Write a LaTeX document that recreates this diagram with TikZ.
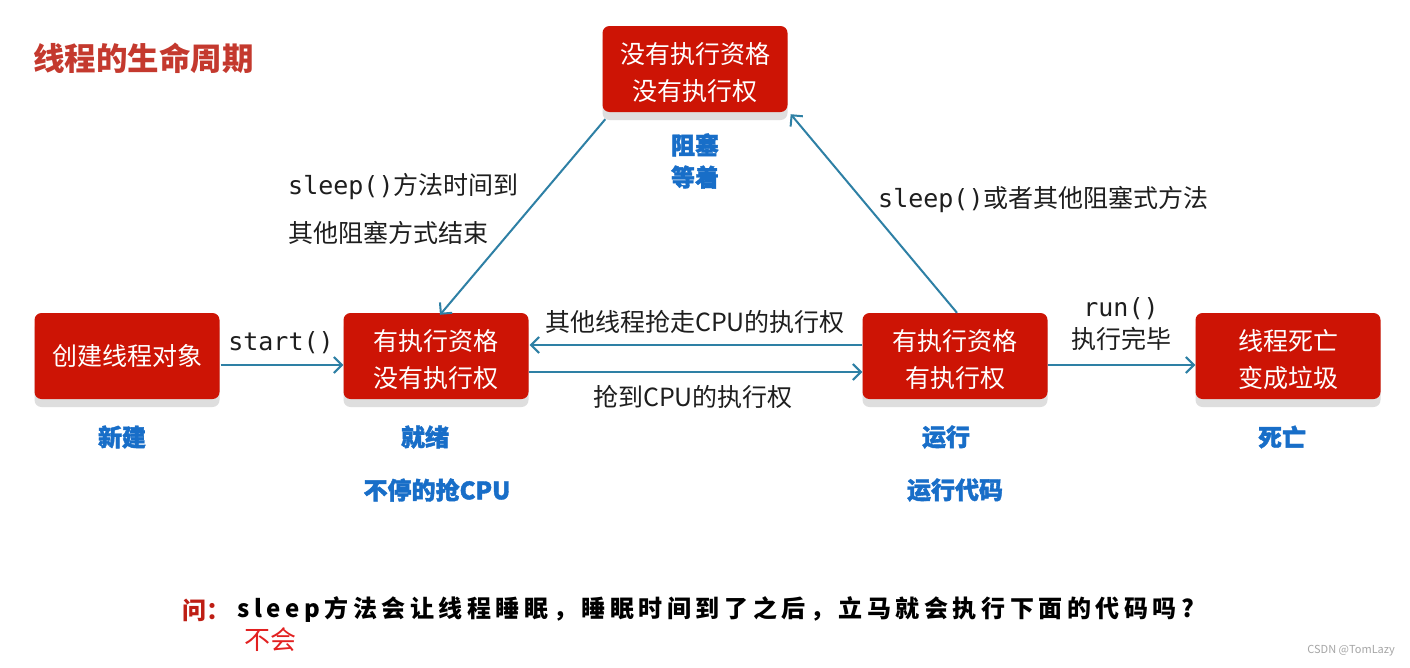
\documentclass[tikz,border=0pt]{standalone}
\usepackage{fontspec}
\setmainfont{Noto Sans CJK SC}
\newfontfamily\monofnt{DejaVu Sans Mono}
\newfontfamily\qfnt[LetterSpace=19]{Noto Sans CJK SC}
\newfontfamily\heavyfnt[FakeBold=1.6]{Noto Sans CJK SC}
\usetikzlibrary{arrows.meta,shadows,calc}
\definecolor{boxred}{RGB}{205,20,5}
\definecolor{titlered}{RGB}{196,57,46}
\definecolor{lblue}{RGB}{24,110,200}
\definecolor{arrowc}{RGB}{46,128,165}
\definecolor{txtc}{RGB}{30,30,30}
\definecolor{shadowc}{RGB}{222,222,222}
\definecolor{askred}{RGB}{190,30,20}
\definecolor{ansred}{RGB}{226,32,32}
\begin{document}
\begin{tikzpicture}[x=1pt,y=-1pt,
  statebox/.style={rectangle, rounded corners=7pt, fill=boxred, text=white,
    minimum width=185pt, minimum height=86pt, align=center, inner sep=0pt,
    font=\fontsize{25}{37}\selectfont,
    drop shadow={shadow xshift=0pt, shadow yshift=-8pt, fill=shadowc, opacity=1}},
  twoline/.style={text height=65pt},
  bluelbl/.style={text=lblue, font=\fontsize{24}{32}\selectfont\heavyfnt\bfseries, inner sep=0pt, align=center},
  edgelbl/.style={text=txtc, font=\fontsize{25}{30}\selectfont, inner sep=0pt},
  conn/.style={draw=arrowc, line width=2pt, -{Straight Barb[length=8pt,width=16pt,line width=2pt]}}
]
\useasboundingbox (0,0) rectangle (1410,667);
\fill[white] (0,0) rectangle (1410,667);

% title
\node[anchor=west, text=titlered, font=\fontsize{31.5}{34}\selectfont\bfseries, inner sep=0pt] (title) at (33,58) {线程的生命周期};

% state boxes
\node[statebox] (new) at (127,356) {创建线程对象};
\node[statebox, twoline] (ready) at (436,356) {有执行资格\\没有执行权};
\node[statebox, twoline] (block) at (695,69) {没有执行资格\\没有执行权};
\node[statebox, twoline] (run) at (955,356) {有执行资格\\有执行权};
\node[statebox, twoline] (dead) at (1288,356) {线程死亡\\变成垃圾};

% blue labels
\node[bluelbl] (lnew) at (122,437) {新建};
\node[bluelbl] (lready) at (425,437) {就绪};
\node[bluelbl] (lready2) at (437,490) {不停的抢CPU};
\node[bluelbl] (lblock) at (695,161) {阻塞\\等着};
\node[bluelbl] (lrun) at (946,437) {运行};
\node[bluelbl] (lrun2) at (955,490) {运行代码};
\node[bluelbl] (ldead) at (1282,437) {死亡};

% connectors
\draw[conn] ($(new.east)+(1,9)$) -- ($(ready.west)+(0,9)$);
\draw[conn] ($(run.west)+(0,-11)$) -- ($(ready.east)+(1,-11)$);
\draw[conn] ($(ready.east)+(0,16)$) -- ($(run.west)+(0,16)$);
\draw[conn] ($(run.east)+(0,9)$) -- ($(dead.west)+(0,9)$);
\coordinate (bsw) at ($(block.south west)+(3,7)$);
\coordinate (rn) at ($(ready.north)+(4,2)$);
\draw[conn] (bsw) -- (rn);
\coordinate (runn) at ($(run.north)+(2,0)$);
\coordinate (bse) at ($(block.south east)+(3,2)$);
\draw[conn] (runn) -- (bse);

% edge labels
\node[edgelbl, anchor=center] (lstart) at (281,343) {\monofnt start()};
\node[edgelbl, anchor=west] (lwake1) at (288,187) {{\monofnt sleep()}方法时间到};
\node[edgelbl, anchor=west] (lwake2) at (288,233) {其他阻塞方式结束};
\node[edgelbl, anchor=west] (lsleep) at (878,200) {{\monofnt sleep()}或者其他阻塞式方法};
\node[edgelbl] (lpre) at (695,322) {其他线程抢走CPU的执行权};
\node[edgelbl] (lgrab) at (693,397) {抢到CPU的执行权};
\node[edgelbl] (lrunm) at (1121,309) {\monofnt run()};
\node[edgelbl] (ldone) at (1121,339) {执行完毕};

% question
\node[anchor=west, text=askred, font=\fontsize{24}{28}\selectfont\bfseries, inner sep=0pt] (ask) at (182,610) {问：};
\node[anchor=west, text=black, font=\fontsize{24}{28}\selectfont\bfseries, inner sep=0pt] (q) at (237,610) {\qfnt\bfseries sleep方法会让线程睡眠，睡眠时间到了之后，立马就会执行下面的代码吗?};
\node[anchor=west, text=ansred, font=\fontsize{26}{30}\selectfont, inner sep=0pt] (ans) at (244,640) {不会};
\node[anchor=east, text=gray!70, font=\fontsize{11}{13}\selectfont, inner sep=0pt] (wm) at (1395,651) {CSDN @TomLazy};
\end{tikzpicture}
\end{document}
